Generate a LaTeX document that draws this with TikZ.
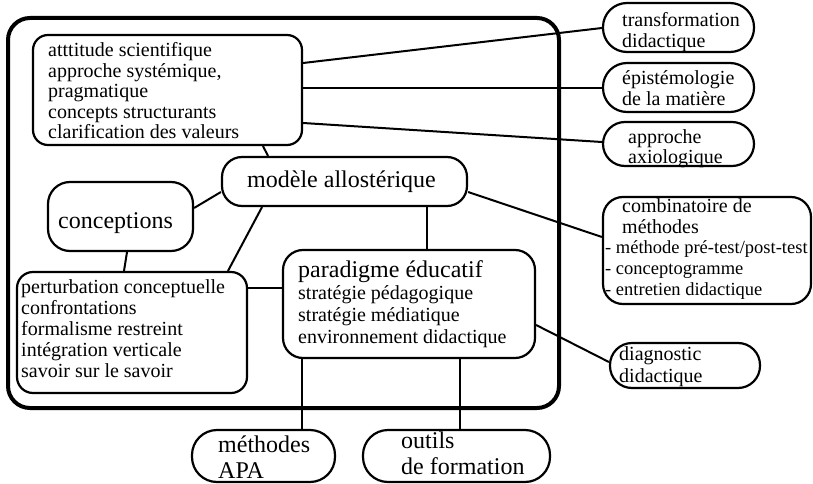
\documentclass[tikz,border=0pt]{standalone}
\usepackage{fontspec}
\setmainfont{Liberation Serif}
\newcommand{\mylines}[1]{\begin{tabular}[t]{@{}l@{}}#1\end{tabular}}
\tikzset{
 bx/.style={draw, line width=2.2pt, inner sep=0pt, rounded corners=#1},
 bx/.default=16pt,
 ln/.style={line width=2pt},
 txt/.style={anchor=base west, inner sep=0pt, font=\fontsize{20}{20.5}\selectfont},
 big/.style={anchor=base west, inner sep=0pt, font=\fontsize{24}{26}\selectfont},
}
\begin{document}
\begin{tikzpicture}[x=1pt,y=-1pt]
\useasboundingbox (0,0) rectangle (813,484);
% frame
\node[draw, line width=4pt, rounded corners=22pt, minimum width=551pt, minimum height=390pt, inner sep=0pt] (frame) at (283.5,213) {};
% boxes
\node[bx=15pt, minimum width=269pt, minimum height=110pt] (A) at (167.5,90) {};
\node[bx=24pt, minimum width=151pt, minimum height=49pt] (trans) at (678.5,27.5) {};
\node[bx=24pt, minimum width=151pt, minimum height=49pt] (epist) at (678.5,87.5) {};
\node[bx=22pt, minimum width=151pt, minimum height=44pt] (axio) at (678.5,144) {};
\node[bx=20pt, minimum width=245pt, minimum height=49pt] (modele) at (344.5,181.5) {};
\node[bx=22pt, minimum width=145pt, minimum height=69pt] (concep) at (120.5,216.5) {};
\node[bx=16pt, minimum width=230pt, minimum height=121pt] (pert) at (132,332.5) {};
\node[bx=20pt, minimum width=252pt, minimum height=108pt] (para) at (409,304) {};
\node[bx=20pt, minimum width=208pt, minimum height=107pt] (combi) at (707,250.5) {};
\node[bx=22pt, minimum width=150pt, minimum height=45pt] (diag) at (685,365.5) {};
\node[bx=25pt, minimum width=143pt, minimum height=52pt] (apa) at (263.5,456) {};
\node[bx=25pt, minimum width=187pt, minimum height=52pt] (outils) at (456.5,456) {};
% texts
\node[txt] (At) at (48,57) {\mylines{atttitude scientifique\\approche systémique,\\pragmatique\\concepts structurants\\clarification des valeurs}};
\node[txt] (transt) at (622,27) {\mylines{transformation\\didactique}};
\node[txt] (epistt) at (622,85) {\mylines{épistémologie\\de la matière}};
\node[txt] (axiot) at (628,143) {\mylines{approche\\axiologique}};
\node[big] (modelet) at (247,187) {modèle allostérique};
\node[big] (conceptt) at (58,228) {conceptions};
\node[txt, font=\fontsize{20}{21}\selectfont] (pertt) at (21,293) {\mylines{perturbation conceptuelle\\confrontations\\formalisme restreint\\intégration verticale\\savoir sur le savoir}};
\node[txt, font=\fontsize{20}{22}\selectfont] (parat) at (298,277) {\mylines{{\fontsize{24}{26}\selectfont paradigme éducatif}\\stratégie pédagogique\\stratégie médiatique\\environnement didactique}};
\node[txt, font=\fontsize{20}{21}\selectfont] (combit) at (622,212) {\mylines{combinatoire de\\méthodes}};
\node[txt, font=\fontsize{18.5}{21}\selectfont] (combil) at (605,253) {\mylines{- méthode pré-test/post-test\\- conceptogramme\\- entretien didactique}};
\node[txt, font=\fontsize{20}{22}\selectfont] (diagt) at (619,360) {\mylines{diagnostic\\didactique}};
\node[big] (apat) at (218,452) {\mylines{méthodes\\APA}};
\node[big] (outilst) at (401,448) {\mylines{outils\\de formation}};
% connectors
\draw[ln] (A.east |- 0,63) -- (trans.west |- 0,28);
\draw[ln] (A.east |- 0,88) -- (epist.west |- 0,88);
\draw[ln] (A.east |- 0,123) -- (axio.west |- 0,142);
\draw[ln] (A.south -| 263,0) -- (modele.north -| 268,0);
\draw[ln] (concep.east |- 0,208) -- (modele.west |- 0,192);
\draw[ln] (concep.south -| 127,0) -- (pert.north -| 124,0);
\draw[ln] (modele.south -| 262,0) -- (pert.north -| 228,0);
\draw[ln] (pert.east |- 0,288) -- (para.west |- 0,288);
\draw[ln] (modele.south -| 427,0) -- (para.north -| 427,0);
\draw[ln] (modele.east |- 0,192) -- (combi.west |- 0,237);
\draw[ln] (para.east |- 0,325) -- (diag.west |- 0,362);
\draw[ln] (para.south -| 302,0) -- (apa.north -| 302,0);
\draw[ln] (para.south -| 460,0) -- (outils.north -| 460,0);
\end{tikzpicture}
\end{document}
